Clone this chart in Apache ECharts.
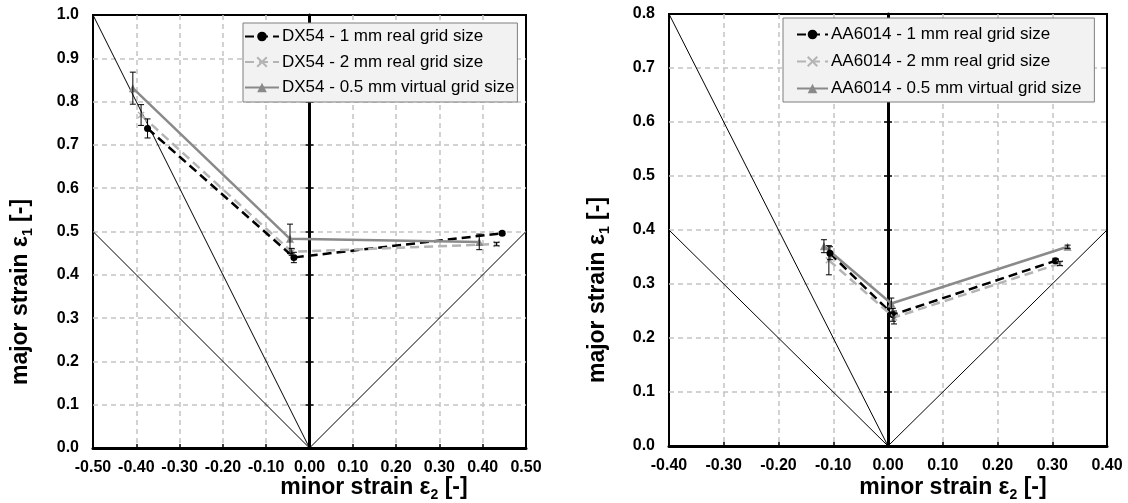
<!DOCTYPE html>
<html>
<head>
<meta charset="utf-8">
<script src="https://cdn.jsdelivr.net/npm/echarts@6/dist/echarts.min.js"></script>
<style>
  html, body { margin: 0; padding: 0; background: #ffffff; }
  #chart { width: 1128px; height: 503px; }
</style>
</head>
<body>
<div id="chart"></div>
<script>
// ---- DX54 (left panel): minor strain, major strain, error half-width ----
const dxNames = ['DX54 - 1 mm real grid size', 'DX54 - 2 mm real grid size', 'DX54 - 0.5 mm virtual grid size'];
const dxMinor1 = [-0.374, -0.036, 0.445];
const dxMajor1 = [0.738, 0.440, 0.496];
const dxErr1   = [0.022, 0.012, 0.004];
const dxMinor2 = [-0.389, -0.041, 0.432];
const dxMajor2 = [0.769, 0.453, 0.471];
const dxErr2   = [0.024, 0.008, 0.004];
const dxMinor3 = [-0.408, -0.045, 0.392];
const dxMajor3 = [0.831, 0.483, 0.476];
const dxErr3   = [0.037, 0.034, 0.018];

// ---- AA6014 (right panel) ----
const aaNames = ['AA6014 - 1 mm real grid size', 'AA6014 - 2 mm real grid size', 'AA6014 - 0.5 mm virtual grid size'];
const aaMinor1 = [-0.106, 0.009, 0.306];
const aaMajor1 = [0.357, 0.243, 0.343];
const aaErr1   = [0.012, 0.012, 0.004];
const aaMinor2 = [-0.108, 0.011, 0.314];
const aaMajor2 = [0.344, 0.238, 0.338];
const aaErr2   = [0.027, 0.012, 0.004];
const aaMinor3 = [-0.117, 0.006, 0.328];
const aaMajor3 = [0.370, 0.264, 0.369];
const aaErr3   = [0.012, 0.010, 0.003];

// Strain-path guide lines, drawn from the origin to these ends
const dxGuideEnds = [[-0.5, 1.0], [-0.5, 0.5], [0.5, 0.5]];
const aaGuideEnds = [[-0.4, 0.8], [-0.4, 0.4], [0.4, 0.4]];

// Axis ranges and tick step
const dxXRange = [-0.5, 0.5], dxYRange = [0, 1.0];
const aaXRange = [-0.4, 0.4], aaYRange = [0, 0.8];
const tickStep = 0.1;

const FONT = 'Arial, "Liberation Sans", sans-serif';

const styles = [
  { symbol: 'circle', size: 7, color: '#000000', dash: [9, 5] },
  { symbol: 'path://M0,0L10,10M10,0L0,10', size: 6, color: '#b4b4b4', dash: [9, 5] },
  { symbol: 'triangle', size: 8, color: '#8a8a8a', dash: 'solid' }
];

function pairs(xs, ys) { return xs.map((x, i) => [x, ys[i]]); }
function errTriples(xs, ys, es) { return xs.map((x, i) => [x, ys[i] - es[i], ys[i] + es[i]]); }

function dataSeries(name, xs, ys, st, gi) {
  return {
    name: name, type: 'line', xAxisIndex: gi, yAxisIndex: gi * 3,
    data: pairs(xs, ys),
    symbol: st.symbol, symbolSize: st.size, showSymbol: true,
    lineStyle: { color: st.color, width: 2.5, type: st.dash },
    itemStyle: { color: st.color, borderColor: st.color, borderWidth: st.symbol.startsWith('path') ? 1.5 : 0 },
    z: 4, silent: true
  };
}

function errSeries(xs, ys, es, gi) {
  return {
    type: 'custom', xAxisIndex: gi, yAxisIndex: gi * 3, z: 6, silent: true,
    data: errTriples(xs, ys, es),
    renderItem: function (params, api) {
      const lo = api.coord([api.value(0), api.value(1)]);
      const hi = api.coord([api.value(0), api.value(2)]);
      const c = 3;
      const st = { stroke: '#000', lineWidth: 1, fill: null };
      return {
        type: 'group',
        children: [
          { type: 'line', shape: { x1: lo[0], y1: lo[1], x2: hi[0], y2: hi[1] }, style: st },
          { type: 'line', shape: { x1: lo[0] - c, y1: lo[1], x2: lo[0] + c, y2: lo[1] }, style: st },
          { type: 'line', shape: { x1: hi[0] - c, y1: hi[1], x2: hi[0] + c, y2: hi[1] }, style: st }
        ]
      };
    }
  };
}

function guideSeries(ends, gi) {
  return ends.map(e => ({
    type: 'line', xAxisIndex: gi, yAxisIndex: gi * 3, silent: true, z: 2,
    data: [[0, 0], e], symbol: 'none',
    lineStyle: { color: '#000', width: 1, type: 'solid' }
  }));
}

const gridLine = {
  show: true, showMinLine: false, showMaxLine: false,
  lineStyle: { color: '#c4c4c4', width: 1.5, type: [5, 4] }
};

function xAxisFor(range, gi) {
  return {
    type: 'value', gridIndex: gi, min: range[0], max: range[1], interval: tickStep,
    axisLine: { show: true, onZero: false, lineStyle: { color: '#000', width: 3 } },
    axisTick: { show: true, inside: true, length: 4, lineStyle: { color: '#000', width: 1.5 } },
    axisLabel: { formatter: v => v.toFixed(2), color: '#000', fontFamily: FONT, fontWeight: 'bold', fontSize: 16, margin: 12 },
    splitLine: gridLine
  };
}

// Three y axes per panel: labelled frame axis, and the zero-line axis with ticks on both sides
function yAxesFor(range, gi) {
  const base = { type: 'value', gridIndex: gi, min: range[0], max: range[1], interval: tickStep };
  return [
    Object.assign({}, base, {
      position: 'left',
      axisLine: { show: false, onZero: false }, axisTick: { show: false },
      axisLabel: { formatter: v => v.toFixed(1), color: '#000', fontFamily: FONT, fontWeight: 'bold', fontSize: 16, margin: 14 },
      splitLine: gridLine
    }),
    Object.assign({}, base, {
      position: 'left',
      axisLine: { show: true, onZero: true, onZeroAxisIndex: gi, lineStyle: { color: '#000', width: 3 } },
      axisTick: { show: true, inside: false, length: 4, lineStyle: { color: '#000', width: 1.5 } },
      axisLabel: { show: false }, splitLine: { show: false }
    }),
    Object.assign({}, base, {
      position: 'left',
      axisLine: { show: false, onZero: true, onZeroAxisIndex: gi },
      axisTick: { show: true, inside: true, length: 4, lineStyle: { color: '#000', width: 1.5 } },
      axisLabel: { show: false }, splitLine: { show: false }
    })
  ];
}

function legendFor(names, left, top, padding, gap, itemWidth) {
  return {
    data: names, orient: 'vertical', left: left, top: top,
    padding: padding, itemGap: gap, itemWidth: itemWidth, itemHeight: 12,
    backgroundColor: '#f2f2f2', borderColor: '#7f7f7f', borderWidth: 1,
    textStyle: { fontFamily: FONT, fontSize: 17, color: '#000', padding: [0, 0, 0, -2] },
    selectedMode: false
  };
}

function axisTitle(main, sub, x, y, rotated) {
  return {
    type: 'text', x: x, y: y, rotation: rotated ? Math.PI / 2 : 0, z: 10,
    style: {
      text: '{a|' + main + '}{s|' + sub + '}{a| [-]}',
      align: 'center', verticalAlign: 'middle',
      rich: {
        a: { fontFamily: FONT, fontWeight: 'bold', fontSize: 23, lineHeight: 28, verticalAlign: 'middle', fill: '#000' },
        s: { fontFamily: FONT, fontWeight: 'bold', fontSize: 14, lineHeight: 14, verticalAlign: 'bottom', fill: '#000' }
      }
    }
  };
}

const series = [].concat(
  guideSeries(dxGuideEnds, 0),
  guideSeries(aaGuideEnds, 1),
  [
    dataSeries(dxNames[0], dxMinor1, dxMajor1, styles[0], 0),
    dataSeries(dxNames[1], dxMinor2, dxMajor2, styles[1], 0),
    dataSeries(dxNames[2], dxMinor3, dxMajor3, styles[2], 0),
    dataSeries(aaNames[0], aaMinor1, aaMajor1, styles[0], 1),
    dataSeries(aaNames[1], aaMinor2, aaMajor2, styles[1], 1),
    dataSeries(aaNames[2], aaMinor3, aaMajor3, styles[2], 1),
    errSeries(dxMinor1, dxMajor1, dxErr1, 0),
    errSeries(dxMinor2, dxMajor2, dxErr2, 0),
    errSeries(dxMinor3, dxMajor3, dxErr3, 0),
    errSeries(aaMinor1, aaMajor1, aaErr1, 1),
    errSeries(aaMinor2, aaMajor2, aaErr2, 1),
    errSeries(aaMinor3, aaMajor3, aaErr3, 1)
  ]
);

const chart = echarts.init(document.getElementById('chart'), null, { renderer: 'canvas' });
chart.setOption({
  animation: false,
  backgroundColor: '#ffffff',
  grid: [
    { left: 93, right: 602, top: 15, bottom: 55, show: true, borderColor: '#000', borderWidth: 2, backgroundColor: 'transparent' },
    { left: 669, right: 21, top: 14, bottom: 57, show: true, borderColor: '#000', borderWidth: 2, backgroundColor: 'transparent' }
  ],
  xAxis: [xAxisFor(dxXRange, 0), xAxisFor(aaXRange, 1)],
  yAxis: yAxesFor(dxYRange, 0).concat(yAxesFor(aaYRange, 1)),
  legend: [
    legendFor(dxNames, 243, 23, [5, 3, 6, 1], 8.5, 34),
    legendFor(aaNames, 783, 18, [8, 13, 5, 13], 10, 31)
  ],
  graphic: [
    axisTitle('minor strain ε', '2', 374, 488, false),
    axisTitle('minor strain ε', '2', 953, 488, false),
    axisTitle('major strain ε', '1', 21, 292, true),
    axisTitle('major strain ε', '1', 598, 290, true)
  ],
  series: series
});
</script>
</body>
</html>
